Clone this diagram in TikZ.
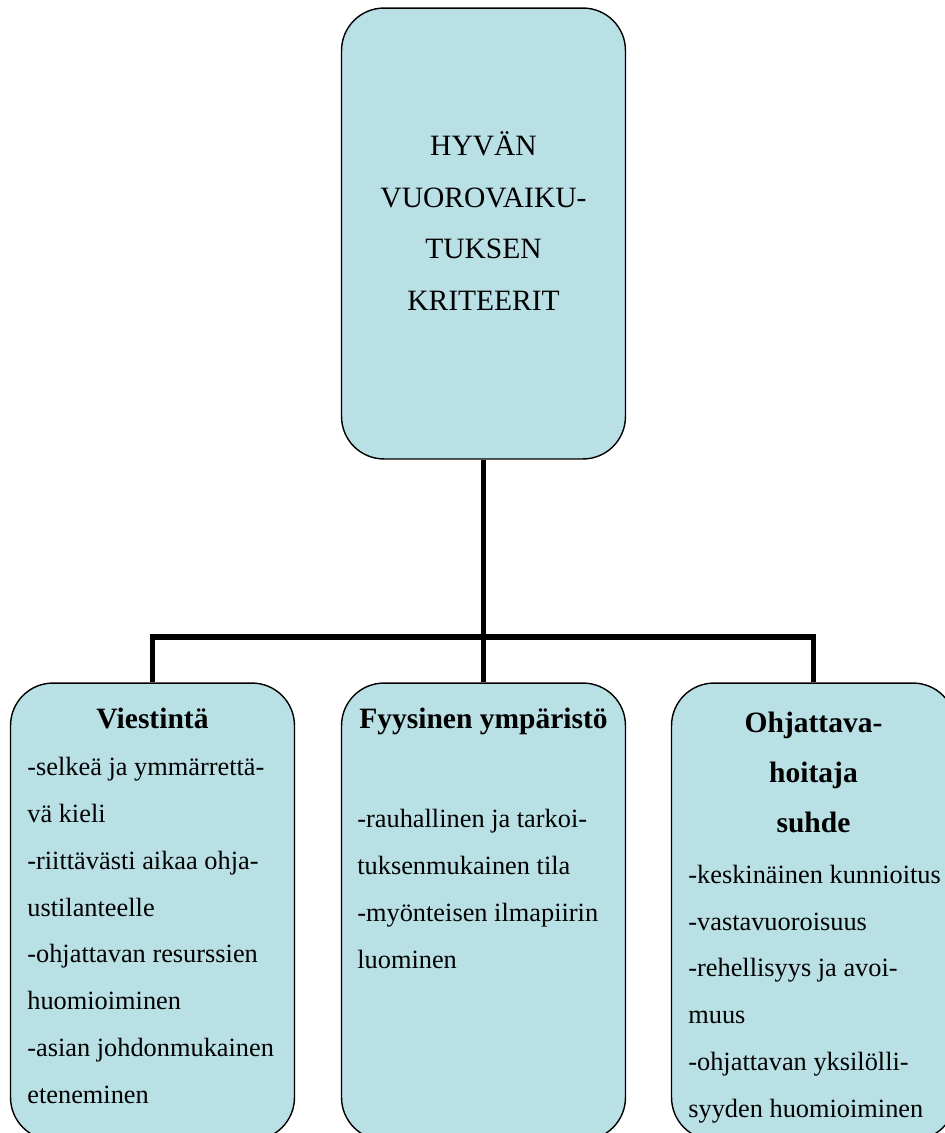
\documentclass[tikz,border=0pt]{standalone}
\usepackage{fontspec}
\setmainfont{Liberation Serif}
\usetikzlibrary{positioning}
\definecolor{boxblue}{RGB}{185,224,228}

\begin{document}
\begin{tikzpicture}[x=0.02cm,y=-0.02cm,
  box/.style={draw,fill=boxblue,rounded corners=0.85cm,line width=0.8pt,minimum width=5.68cm,inner sep=0pt},
  head/.style={font=\fontsize{16.8}{28.3}\selectfont\bfseries,align=center,inner sep=0pt,anchor=base},
  body/.style={font=\fontsize{15}{26.6}\selectfont,align=left,inner sep=0pt,anchor=base west},
  link/.style={line width=3.4pt}
]
  \useasboundingbox (0,0) rectangle (945,1133);
  \clip (0,0) rectangle (945,1133);

  % Main criterion
  \node[box,minimum height=9.02cm] (root) at (483.5,233.5) {};
  \node[font=\fontsize{16.8}{29.3}\selectfont,align=center,inner sep=0pt,anchor=base] (roottext) at (483.5,310)
    {HYVÄN\\VUOROVAIKU-\\TUKSEN\\KRITEERIT};

  % Sub-criteria (text nodes anchored at their last baseline)
  \node[box,minimum height=9.14cm] (viest) at (152.5,911.5) {};
  \node[box,minimum height=9.14cm] (fyys)  at (483.5,911.5) {};
  \node[box,minimum height=9.14cm] (ohj)   at (813.5,911.5) {};

  \node[head] (viesthead) at (152.5,728) {Viestintä};
  \node[body] (viestbody) at (27,1103)
    {-selkeä ja ymmärrettä-\\vä kieli\\-riittävästi aikaa ohja-\\ustilanteelle\\-ohjattavan resurssien\\huomioiminen\\-asian johdonmukainen\\eteneminen};

  \node[head] (fyyshead) at (483.5,728) {Fyysinen ympäristö};
  \node[body] (fyysbody) at (357,968)
    {-rauhallinen ja tarkoi-\\tuksenmukainen tila\\-myönteisen ilmapiirin\\luominen};

  \node[head] (ohjhead) at (813.5,832) {Ohjattava-\\hoitaja\\suhde};
  \node[body] (ohjbody) at (688,1117)
    {-keskinäinen kunnioitus\\-vastavuoroisuus\\-rehellisyys ja avoi-\\muus\\-ohjattavan yksilölli-\\syyden huomioiminen};

  % Connectors
  \coordinate (bus) at (483.5,637);
  \draw[link] (root.south) -- (fyys.north);
  \draw[link] (viest.north) |- (bus) -| (ohj.north);
\end{tikzpicture}
\end{document}
